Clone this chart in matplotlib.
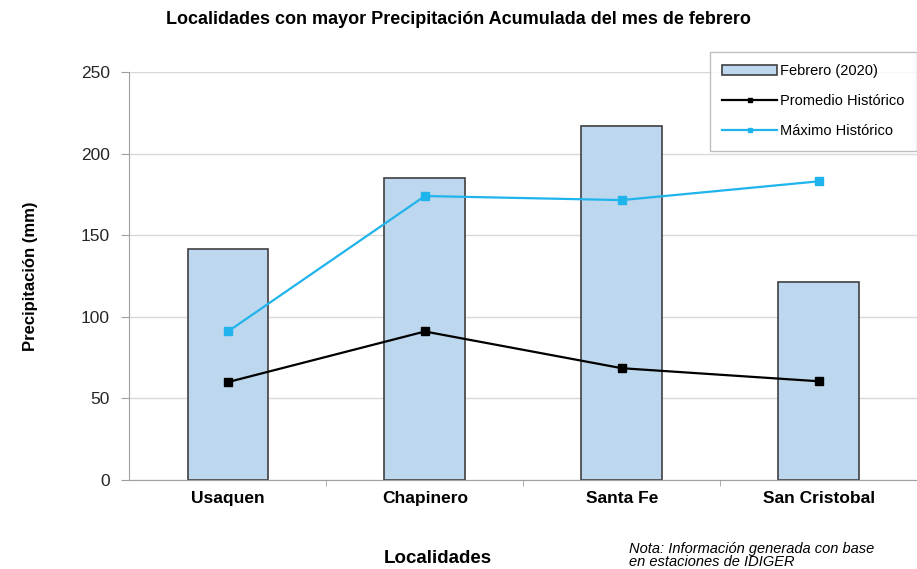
import matplotlib
matplotlib.use("Agg")
from matplotlib import pyplot as plt
import numpy as np

plt.rcParams["font.family"] = ["Liberation Sans", "DejaVu Sans"]

# data
localidades = ["Usaquen", "Chapinero", "Santa Fe", "San Cristobal"]
febrero_2020 = [141.5, 185, 217, 121.5]
promedio_hist = [60, 91, 68.5, 60.5]
maximo_hist = [91, 174, 171.5, 183]

fig = plt.figure(figsize=(9.17, 5.69), dpi=100)
ax = fig.add_axes([0.1412, 0.1564, 0.859, 0.7171])

x = np.arange(len(localidades))
ax.bar(x, febrero_2020, width=0.41, color="#BDD7EE", edgecolor="#404040",
       linewidth=1.2, label="Febrero (2020)", zorder=2)
ax.plot(x, promedio_hist, color="black", lw=1.6, marker="s", ms=6,
        label="Promedio Histórico", zorder=3)
ax.plot(x, maximo_hist, color="#1FB4EC", lw=1.6, marker="s", ms=6,
        label="Máximo Histórico", zorder=3)

ax.set_xlim(-0.5, 3.5)
ax.set_ylim(0, 250)
ax.set_yticks(range(0, 251, 50))
ax.yaxis.grid(True, color="#D9D9D9", lw=1)
ax.set_axisbelow(True)

ax.set_xticks(x)
ax.set_xticklabels(localidades, fontsize=12.5, fontweight="bold")
ax.tick_params(axis="x", length=0, pad=8)
ax.set_xticks(np.arange(0.5, 3, 1), minor=True)
ax.tick_params(axis="x", which="minor", length=4, color="#A0A0A0")
ax.tick_params(axis="y", length=6, color="#A0A0A0", labelsize=12.5,
               labelcolor="#262626", pad=8)

for side in ["top", "right"]:
    ax.spines[side].set_visible(False)
for side in ["left", "bottom"]:
    ax.spines[side].set_color("#A0A0A0")

ax.set_ylabel("Precipitación (mm)", fontsize=12, fontweight="bold", labelpad=31)

fig.text(0.5, 0.966, "Localidades con mayor Precipitación Acumulada del mes de febrero",
         ha="center", va="center", fontsize=13, fontweight="bold")
fig.text(0.477, 0.019, "Localidades", ha="center", va="center",
         fontsize=13.5, fontweight="bold")
fig.text(0.686, 0.047, "Nota: Información generada con base\nen estaciones de IDIGER",
         ha="left", va="top", fontsize=10.5, style="italic", linespacing=0.9)

handles, labels = ax.get_legend_handles_labels()
order = [2, 0, 1]
leg = ax.legend([handles[i] for i in order], [labels[i] for i in order],
                loc="upper right", bbox_to_anchor=(1.0, 1.049), fontsize=10.5,
                frameon=True, fancybox=False, edgecolor="#B0B0B0",
                labelspacing=1.1, handlelength=3.8, handletextpad=0.2,
                borderpad=0.85, borderaxespad=0.0, markerscale=0.6)

fig.savefig("out.png", dpi=100)
